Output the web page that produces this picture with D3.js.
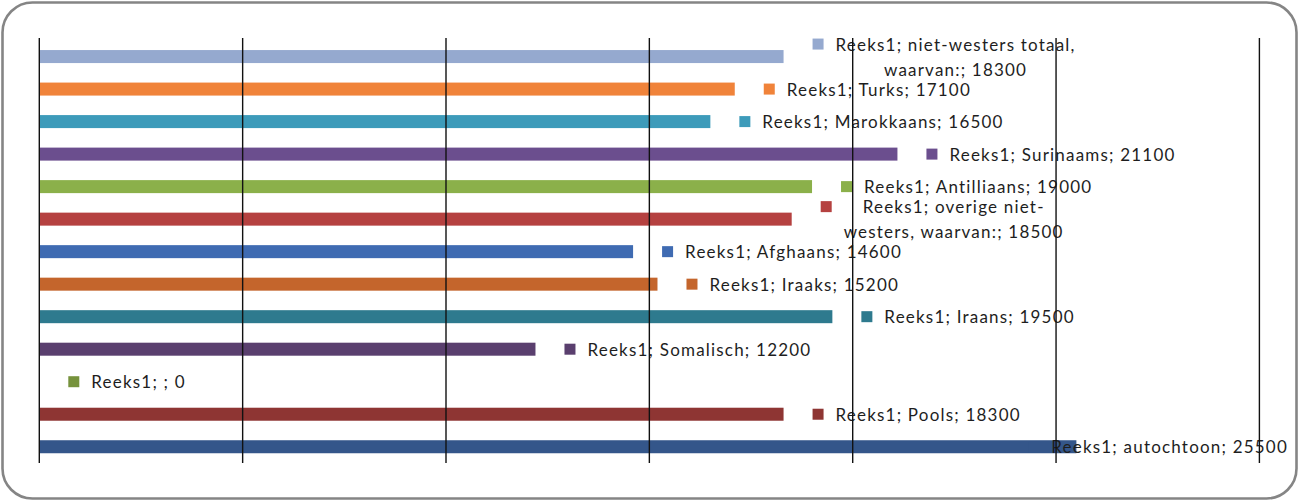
<!DOCTYPE html>
<html><head><meta charset="utf-8">
<script src="https://cdn.jsdelivr.net/npm/d3@7"></script>
<style>html,body{margin:0;padding:0;background:#fff;} svg{display:block}</style>
</head><body>
<svg id="chart" width="1299" height="501"></svg>
<script>
const seriesName = "Reeks1";
const categories = ["niet-westers totaal,\nwaarvan:", "Turks", "Marokkaans", "Surinaams", "Antilliaans", "overige niet-\nwesters, waarvan:", "Afghaans", "Iraaks", "Iraans", "Somalisch", "", "Pools", "autochtoon"];
const values = [18300, 17100, 16500, 21100, 19000, 18500, 14600, 15200, 19500, 12200, 0, 18300, 25500];
const colors = ["#95a9cf","#f0833a","#3d9bba","#6b4e8e","#8bb04a","#b54140","#3f6bb2","#c4652c","#2e7a8e","#5a3f6e","#76923c","#8e3533","#34568a"];
const xTicks = [0, 5000, 10000, 15000, 20000, 25000, 30000];

const W = 1299, H = 501;
const svg = d3.select("#chart");
const FONT = "Lato, 'Open Sans', sans-serif";

// frame
svg.append("rect").attr("x", 2.5).attr("y", 2.5).attr("width", W - 5).attr("height", H - 5)
  .attr("rx", 30).attr("ry", 30).attr("fill", "#fff").attr("stroke", "#858585").attr("stroke-width", 2.6);

const x = d3.scaleLinear().domain([0, 30000]).range([39.3, 1259.4]);
const y = d3.scaleBand().domain(d3.range(categories.length)).range([40.3, 463]).paddingInner(0.6).paddingOuter(0.3);

// bars
svg.append("g").selectAll("rect").data(values).join("rect")
  .attr("x", x(0)).attr("y", (d, i) => y(i))
  .attr("width", d => x(d) - x(0)).attr("height", y.bandwidth())
  .attr("fill", (d, i) => colors[i]);

// labels
const lg = svg.append("g");
const lineH = 25, rightLimit = 1288;
values.forEach((v, i) => {
  const label = seriesName + "; " + categories[i] + "; " + v;
  const lines = label.split("\n");
  const g = lg.append("g");
  const texts = lines.map(l => g.append("text").text(l)
    .attr("font-family", FONT).attr("font-size", 17).attr("letter-spacing", 1.2).attr("fill", "#1e1e1e")
    .attr("dominant-baseline", "central"));
  const widths = texts.map(t => t.node().getComputedTextLength());
  const bw = d3.max(widths);
  let ts = x(v) + 29 + 23;
  if (ts + bw > rightLimit) ts = rightLimit - bw;
  const cy = y(i) + y.bandwidth() / 2;
  const n = lines.length;
  texts.forEach((t, k) => {
    t.attr("text-anchor", "middle").attr("x", ts + bw / 2).attr("y", cy + (k - (n - 1) / 2) * lineH);
  });
  const y0 = cy - (n - 1) / 2 * lineH;
  g.insert("rect", "text").attr("x", ts - 23).attr("y", y0 - 5.5).attr("width", 11).attr("height", 11)
    .attr("fill", colors[i]);
});

// gridlines on top
svg.append("g").selectAll("line").data(xTicks).join("line")
  .attr("x1", d => x(d)).attr("x2", d => x(d)).attr("y1", 38).attr("y2", 463)
  .attr("stroke", "#111").attr("stroke-width", 1.4);
</script>
</body></html>
